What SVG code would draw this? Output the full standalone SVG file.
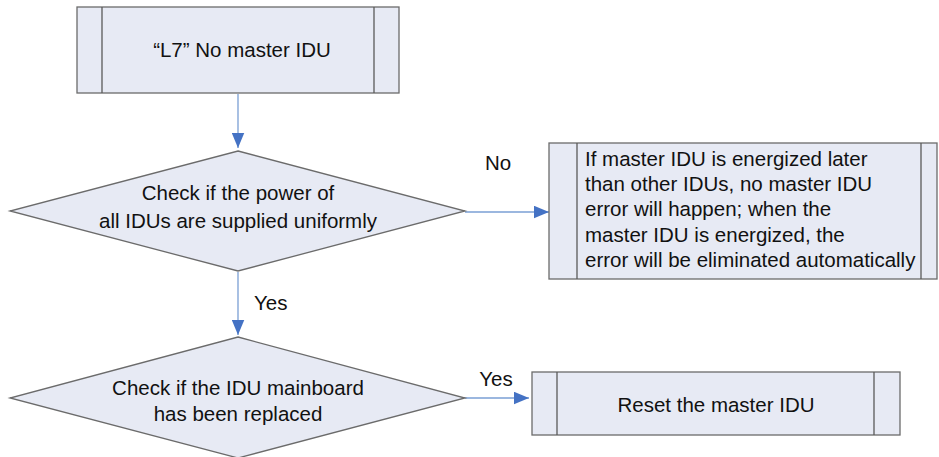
<svg xmlns="http://www.w3.org/2000/svg" width="939" height="457" viewBox="0 0 939 457">
<style>
.box{fill:#e7eaf4;stroke:#6b6b6b;stroke-width:1.3}
.ln{stroke:#5a5a5a;stroke-width:1.3}
text{font-family:"Liberation Sans",Arial,sans-serif;font-size:20.5px;fill:#111}
.c{text-anchor:middle}
.conn{stroke:#7a9fd4;stroke-width:1.3;fill:none}
</style>
<defs>
<marker id="ah2" viewBox="0 0 12 10" refX="12" refY="5" markerWidth="15" markerHeight="13" markerUnits="userSpaceOnUse" orient="auto">
<path d="M0,0 L12,5 L0,10 Z" fill="#4472c4"/>
</marker>
</defs>
<g id="connectors">
<line class="conn" x1="238" y1="94" x2="238" y2="148" marker-end="url(#ah2)"/>
<line class="conn" x1="465" y1="212" x2="549" y2="212" marker-end="url(#ah2)"/>
<line class="conn" x1="238" y1="272" x2="238" y2="335" marker-end="url(#ah2)"/>
<line class="conn" x1="465" y1="398" x2="529" y2="398" marker-end="url(#ah2)"/>
<text x="498" y="170" class="c">No</text>
<text x="254" y="310">Yes</text>
<text x="496" y="386" class="c">Yes</text>
</g>
<g id="start">
<rect class="box" x="77" y="7" width="322" height="86"/>
<line class="ln" x1="102" y1="7" x2="102" y2="93"/>
<line class="ln" x1="374" y1="7" x2="374" y2="93"/>
<text x="242" y="57" class="c">“L7” No master IDU</text>
</g>
<g id="decision1">
<polygon class="box" points="238,151 465,211 238,271 10,211"/>
<text x="238" y="200" class="c">Check if the power of</text>
<text x="238" y="228" class="c">all IDUs are supplied uniformly</text>
</g>
<g id="note">
<rect class="box" x="549" y="143" width="388" height="136"/>
<line class="ln" x1="577" y1="143" x2="577" y2="279"/>
<line class="ln" x1="921" y1="143" x2="921" y2="279"/>
<text x="585" y="166">If master IDU is energized later</text>
<text x="585" y="191">than other IDUs, no master IDU</text>
<text x="585" y="216">error will happen; when the</text>
<text x="585" y="242">master IDU is energized, the</text>
<text x="585" y="267">error will be eliminated automatically</text>
</g>
<g id="decision2">
<polygon class="box" points="238,337 465,398 238,458 10,398"/>
<text x="238" y="395" class="c">Check if the IDU mainboard</text>
<text x="238" y="421" class="c">has been replaced</text>
</g>
<g id="reset">
<rect class="box" x="532" y="372" width="368" height="63"/>
<line class="ln" x1="557" y1="372" x2="557" y2="435"/>
<line class="ln" x1="874" y1="372" x2="874" y2="435"/>
<text x="716" y="412" class="c">Reset the master IDU</text>
</g>
</svg>
